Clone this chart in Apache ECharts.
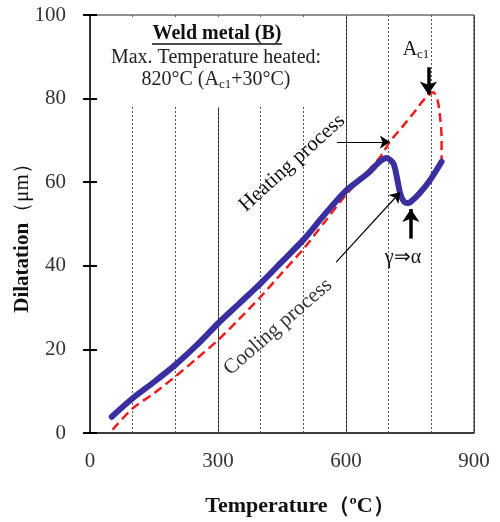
<!DOCTYPE html>
<html>
<head>
<meta charset="utf-8">
<script src="https://cdn.jsdelivr.net/npm/echarts@6/dist/echarts.min.js"></script>
<style>
  html, body { margin: 0; padding: 0; background: #fff; }
  #chart { width: 500px; height: 522px; }
</style>
</head>
<body>
<div id="chart"></div>
<script>
// heating process (red dashed)
const heatTemp = [53, 100, 150, 200, 250, 300, 350, 400, 450, 500, 550, 600, 650, 680, 703, 730, 758, 785, 805, 815, 821, 824, 824];
const heatDil = [0.8, 5.9, 9.5, 13.5, 17.8, 22.2, 27.3, 32.6, 38.3, 44, 50.5, 57, 62.5, 66, 69.7, 73, 76.5, 80, 81.5, 79.5, 75, 70.9, 65.3];

// cooling process (blue)
const coolTemp = [824, 797, 773, 755, 744, 735, 727, 719, 711, 695, 680, 650, 600, 550, 500, 450, 400, 350, 300, 250, 200, 150, 100, 51];
const coolDil = [64.9, 60.5, 57.4, 55.6, 55, 55.5, 57.3, 61.3, 64.5, 65.8, 65, 62, 58, 52.3, 46.2, 41, 35.8, 31, 26.2, 21, 16.3, 12.2, 8.3, 3.9];

const xTicks = [0, 300, 600, 900];
const yTicks = [0, 20, 40, 60, 80, 100];

const serif = "Liberation Serif";

function zip(xs, ys) {
  return xs.map((x, i) => [x, ys[i]]);
}

const chart = echarts.init(document.getElementById("chart"));

// an annotation arrow between two points in data coordinates
const arrowLine = (from, to, width, size) => [
  {
    coord: from,
    symbol: "none",
    lineStyle: { color: "#000", width: width, type: "solid" }
  },
  { coord: to, symbol: "arrow", symbolSize: size }
];

option = {
  backgroundColor: "#fff",
  animation: false,
  grid: {
    left: 90,
    right: 26,
    top: 15,
    bottom: 89,
    outerBoundsMode: "none",
    containLabel: false,
    show: true,
    borderColor: "#222",
    borderWidth: 1
  },
  xAxis: [
    {
      type: "value",
      min: 0,
      max: 900,
      interval: 300,
      name: "Temperature（ºC）",
      nameLocation: "middle",
      nameMoveOverlap: false,
      nameGap: 62,
      nameTextStyle: {
        fontFamily: serif,
        fontWeight: "bold",
        fontSize: 22,
        color: "#111",
        padding: [0, 0, 0, 36]
      },
      axisLine: { lineStyle: { color: "#222", width: 1.5 } },
      axisTick: { show: false },
      axisLabel: {
        fontFamily: serif,
        fontSize: 21,
        color: "#333",
        margin: 18,
        formatter: v => (xTicks.includes(v) ? v : "")
      },
      splitLine: { show: true, lineStyle: { color: "#222", width: 1, type: "solid" } }
    },
    {
      type: "value",
      min: 0,
      max: 900,
      interval: 100,
      position: "bottom",
      axisLine: { show: false },
      axisTick: { show: false },
      axisLabel: { show: false },
      splitLine: { show: true, lineStyle: { color: "#555", width: 1, type: [2, 2] } }
    }
  ],
  yAxis: [
    {
      type: "value",
      min: 0,
      max: 100,
      interval: 20,
      name: "{b|Dilatation}（μm）",
      nameLocation: "middle",
      nameMoveOverlap: false,
      nameGap: 57,
      nameTextStyle: {
        fontFamily: serif,
        fontSize: 21,
        color: "#111",
        padding: [0, 18, 0, 0],
        rich: {
          b: { fontFamily: serif, fontWeight: "bold", fontSize: 21, color: "#111" }
        }
      },
      axisLine: { show: true, lineStyle: { color: "#222", width: 1.5 } },
      axisTick: { show: true, length: 7, lineStyle: { color: "#000", width: 2 } },
      axisLabel: {
        fontFamily: serif,
        fontSize: 21,
        color: "#333",
        margin: 24,
        formatter: v => (yTicks.includes(v) ? v : "")
      },
      splitLine: { show: false }
    },
    {
      type: "value",
      min: 0,
      max: 100,
      interval: 20,
      position: "left",
      offset: 0,
      axisLine: { show: false },
      axisTick: { show: true, inside: true, length: 7, lineStyle: { color: "#000", width: 2 } },
      axisLabel: { show: false },
      splitLine: { show: false }
    }
  ],
  series: [
    {
      name: "Heating process",
      type: "line",
      data: zip(heatTemp, heatDil),
      smooth: 0.25,
      showSymbol: false,
      z: 3,
      lineStyle: { color: "#ee1c1c", width: 2.5, type: [9, 5] },
      markLine: {
        silent: true,
        label: { show: false },
        data: [
          arrowLine([579, 69.6], [703, 69.6], 1.2, 10),
          arrowLine([793, 87.5], [793, 81], 3.5, 13)
        ]
      }
    },
    {
      name: "Cooling process",
      type: "line",
      data: zip(coolTemp, coolDil),
      smooth: 0.25,
      showSymbol: false,
      z: 4,
      lineStyle: { color: "#3a2f9e", width: 6, cap: "round" },
      markLine: {
        silent: true,
        label: { show: false },
        data: [
          arrowLine([577, 40.9], [727, 57.6], 1.2, 10),
          arrowLine([752, 46.5], [752, 53.6], 3.5, 13)
        ]
      }
    }
  ],
  graphic: [
    {
      type: "rect",
      z: 1,
      shape: { x: 99, y: 17, width: 242, height: 90 },
      style: { fill: "#fff" }
    },
    {
      type: "text",
      z: 5,
      x: 217,
      y: 34,
      style: {
        text: "Weld metal (B)",
        fontFamily: serif,
        fontWeight: "bold",
        fontSize: 20,
        fill: "#111",
        align: "center",
        verticalAlign: "middle"
      }
    },
    {
      type: "line",
      z: 5,
      shape: { x1: 152, y1: 44, x2: 282, y2: 44 },
      style: { stroke: "#111", lineWidth: 1.4 }
    },
    {
      type: "text",
      z: 5,
      x: 216,
      y: 58,
      style: {
        text: "Max. Temperature heated:",
        fontFamily: serif,
        fontSize: 20,
        fill: "#222",
        align: "center",
        verticalAlign: "middle"
      }
    },
    {
      type: "text",
      z: 5,
      x: 216,
      y: 80,
      style: {
        text: "820°C (A{s|c1}+30°C)",
        fontFamily: serif,
        fontSize: 20,
        fill: "#222",
        align: "center",
        verticalAlign: "middle",
        rich: {
          s: { fontFamily: serif, fontSize: 13, fill: "#222", padding: [10, 0, 0, 0] }
        }
      }
    },
    {
      type: "text",
      z: 5,
      x: 416,
      y: 50,
      style: {
        text: "A{s|c1}",
        fontFamily: serif,
        fontSize: 20,
        fill: "#111",
        align: "center",
        verticalAlign: "middle",
        rich: {
          s: { fontFamily: serif, fontSize: 13, fill: "#111", padding: [10, 0, 0, 0] }
        }
      }
    },
    {
      type: "text",
      z: 5,
      x: 292,
      y: 163,
      rotation: (42 * Math.PI) / 180,
      style: {
        text: "Heating process",
        fontFamily: serif,
        fontSize: 21,
        fill: "#111",
        align: "center",
        verticalAlign: "middle"
      }
    },
    {
      type: "text",
      z: 5,
      x: 278,
      y: 327,
      rotation: (41 * Math.PI) / 180,
      style: {
        text: "Cooling process",
        fontFamily: serif,
        fontSize: 21,
        fill: "#333",
        align: "center",
        verticalAlign: "middle"
      }
    },
    {
      type: "text",
      z: 5,
      x: 403,
      y: 258,
      style: {
        text: "γ⇒α",
        fontFamily: serif,
        fontSize: 20,
        fill: "#111",
        align: "center",
        verticalAlign: "middle"
      }
    }
  ]
};

chart.setOption(option);
</script>
</body>
</html>
